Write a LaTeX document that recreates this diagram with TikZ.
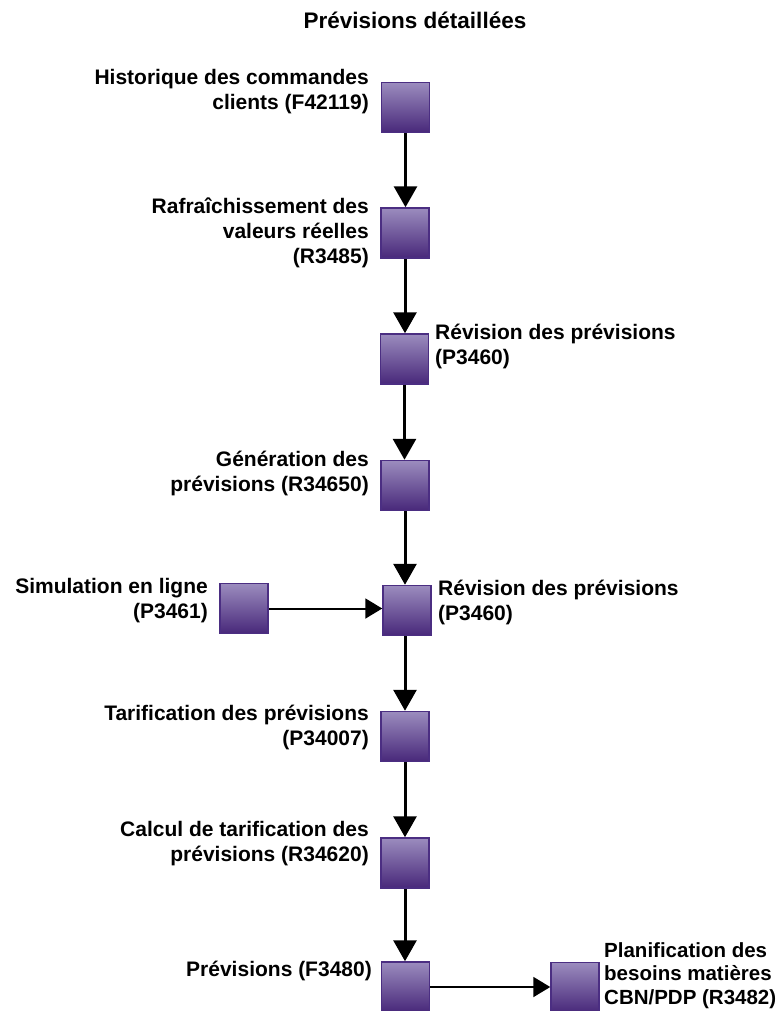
\documentclass[tikz,border=0pt]{standalone}
\usepackage{fontspec}
\setmainfont{Liberation Sans}
\usetikzlibrary{arrows.meta}
\definecolor{boxtop}{RGB}{155,140,190}
\definecolor{boxbot}{RGB}{72,40,122}
\definecolor{boxline}{RGB}{75,46,130}
\tikzset{
  proc/.style={draw=boxline, line width=1.5bp, top color=boxtop, bottom color=boxbot,
    minimum width=48bp, minimum height=50bp, inner sep=0pt},
  lbl/.style={font=\bfseries\fontsize{21bp}{25bp}\selectfont, inner sep=0pt},
  lleft/.style={lbl, align=right, anchor=north east},
  lright/.style={lbl, align=left, anchor=north west},
  vflow/.style={line width=3bp, -{Triangle[length=21bp,width=23bp]}},
  hflow/.style={line width=2bp, -{Triangle[length=17bp,width=20bp]}}
}
\begin{document}
\begin{tikzpicture}[x=1bp,y=-1bp]
\useasboundingbox (0,0) rectangle (782,1011);

% title
\node[lbl, font=\bfseries\fontsize{22.5bp}{27bp}\selectfont] (title) at (415,20) {Prévisions détaillées};

% process boxes
\node[proc] (b1) at (405.5,107.5) {};
\node[proc] (b2) at (405,233) {};
\node[proc] (b3) at (404.5,359) {};
\node[proc] (b4) at (405,485.5) {};
\node[proc] (b5) at (407,610.5) {};
\node[proc] (sim) at (244,608.5) {};
\node[proc] (b6) at (405,736.5) {};
\node[proc] (b7) at (405,863) {};
\node[proc] (b8) at (405.5,987) {};
\node[proc] (cbn) at (575,987.5) {};

% labels
\node[lleft] (t1) at (369,69) {Historique des commandes\\clients (F42119)};
\node[lleft] (t2) at (369,198) {Rafraîchissement des\\valeurs réelles\\(R3485)};
\node[lright] (t3) at (435,324) {Révision des prévisions\\(P3460)};
\node[lleft] (t4) at (369,451) {Génération des\\prévisions (R34650)};
\node[lleft] (tsim) at (208,578) {Simulation en ligne\\(P3461)};
\node[lright] (t5) at (438,580) {Révision des prévisions\\(P3460)};
\node[lleft] (t6) at (369,705) {Tarification des prévisions\\(P34007)};
\node[lleft] (t7) at (369,821) {Calcul de tarification des\\prévisions (R34620)};
\node[lleft] (t8) at (372,961) {Prévisions (F3480)};
\node[lright, font=\bfseries\fontsize{20.5bp}{23.5bp}\selectfont] (t9) at (604,942) {Planification des\\besoins matières\\CBN/PDP (R3482)};

% connectors
\draw[vflow] (b1.south) -- (b1.south |- b2.north);
\draw[vflow] (b2.south) -- (b2.south |- b3.north);
\draw[vflow] (b3.south) -- (b3.south |- b4.north);
\draw[vflow] (b4.south) -- (b4.south |- b5.north);
\draw[vflow] (b5.south -| b6.north) -- (b6.north);
\draw[vflow] (b6.south) -- (b6.south |- b7.north);
\draw[vflow] (b7.south) -- (b7.south |- b8.north);
\draw[hflow] (sim.east) -- (b5.west |- sim.east);
\draw[hflow] (b8.east) -- (cbn.west |- b8.east);
\end{tikzpicture}
\end{document}
